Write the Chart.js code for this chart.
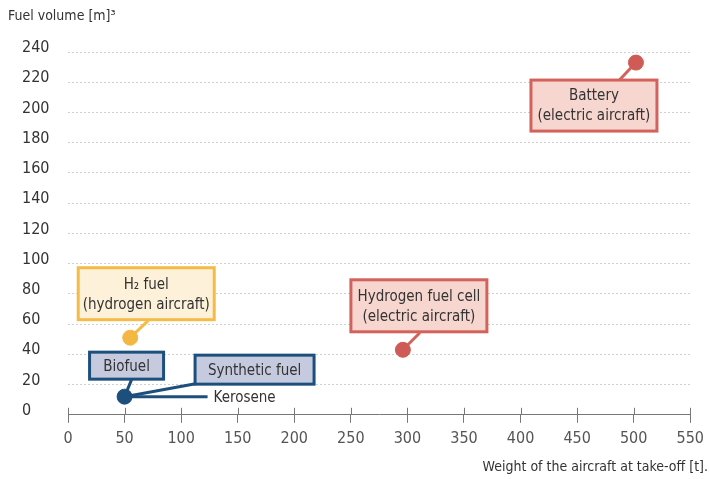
<!DOCTYPE html>
<html>
<head>
<meta charset="utf-8">
<script src="https://cdn.jsdelivr.net/npm/chart.js@4"></script>
<style>
  html,body{margin:0;padding:0;background:#fff;}
  #wrap{width:710px;height:479px;}
</style>
</head>
<body>
<div id="wrap"><canvas id="chart"></canvas></div>
<script>
// fuel types: take-off weight [t] vs fuel volume [m3]
const categories=["Kerosene","H2 fuel","Hydrogen fuel cell","Battery"]
const weights=[50,55,296,502]
const volumes=[12,51,43,233]
const pointColors=["#1d4f7c","#f2b843","#cf5b57","#cf5b57"]
const xTicks=[0,50,100,150,200,250,300,350,400,450,500,550]
const yTicks=[0,20,40,60,80,100,120,140,160,180,200,220,240]

const FONT='"Liberation Sans Narrow","Arial Narrow","DejaVu Sans Condensed",sans-serif'
const TEXT="#333"

// callout boxes, placed relative to their point (pixels)
const callouts=[
  {point:0,lines:["Biofuel"],dx:2,dy:-31,w:74,h:27,fill:"#c6cadf",stroke:"#1d4f7c",lx:7,ly:-17},
  {point:0,lines:["Synthetic fuel"],dx:130,dy:-27,w:119,h:29,fill:"#c6cadf",stroke:"#1d4f7c",lx:71,ly:-13},
  {point:1,lines:["H\u2082 fuel","(hydrogen aircraft)"],dx:16,dy:-44,w:136,h:52,fill:"#fdf1d9",stroke:"#f4bc47",lx:18,ly:-17},
  {point:2,lines:["Hydrogen fuel cell","(electric aircraft)"],dx:16,dy:-44,w:136,h:52,fill:"#f6d6ce",stroke:"#d4625c",lx:17,ly:-17},
  {point:3,lines:["Battery","(electric aircraft)"],dx:-42,dy:43,w:126,h:51,fill:"#f6d6ce",stroke:"#d4625c",lx:-17,ly:18}
]

const calloutPlugin={
  id:"callouts",
  beforeDatasetsDraw(chart){
    const ctx=chart.ctx
    const meta=chart.getDatasetMeta(0)
    const x=chart.scales.x
    ctx.save()
    // tick marks crossing the x axis
    ctx.strokeStyle="#777"
    ctx.lineWidth=1
    xTicks.forEach(v=>{
      const px=Math.round(x.getPixelForValue(v))+0.5
      ctx.beginPath()
      ctx.moveTo(px,chart.chartArea.bottom-7)
      ctx.lineTo(px,chart.chartArea.bottom)
      ctx.stroke()
    })
    // leader lines
    ctx.lineWidth=3
    callouts.forEach(c=>{
      const p=meta.data[c.point]
      ctx.strokeStyle=c.stroke
      ctx.beginPath()
      ctx.moveTo(p.x,p.y)
      ctx.lineTo(p.x+c.lx,p.y+c.ly)
      ctx.stroke()
    })
    // kerosene line + label
    const k=meta.data[0]
    ctx.strokeStyle="#1d4f7c"
    ctx.beginPath()
    ctx.moveTo(k.x,k.y)
    ctx.lineTo(k.x+83,k.y)
    ctx.stroke()
    ctx.restore()
  },
  afterDatasetsDraw(chart){
    const ctx=chart.ctx
    const meta=chart.getDatasetMeta(0)
    ctx.save()
    ctx.font="15px "+FONT
    ctx.textAlign="center"
    ctx.textBaseline="middle"
    callouts.forEach(c=>{
      const p=meta.data[c.point]
      const cx=p.x+c.dx, cy=p.y+c.dy
      ctx.fillStyle=c.fill
      ctx.strokeStyle=c.stroke
      ctx.lineWidth=3
      ctx.fillRect(cx-c.w/2,cy-c.h/2,c.w,c.h)
      ctx.strokeRect(cx-c.w/2,cy-c.h/2,c.w,c.h)
      ctx.fillStyle=TEXT
      const lh=20
      c.lines.forEach((t,i)=>{
        ctx.fillText(t,cx,cy+(i-(c.lines.length-1)/2)*lh+1)
      })
    })
    const k=meta.data[0]
    ctx.textAlign="left"
    ctx.fillText(categories[0],k.x+89,k.y+1)
    // axis titles
    ctx.font="14px "+FONT
    ctx.fillText("Fuel volume [m]\u00b3",8,16)
    ctx.textAlign="right"
    ctx.fillText("Weight of the aircraft at take-off [t].",708,467)
    ctx.restore()
  }
}

new Chart(document.getElementById("chart"),{
  type:"scatter",
  data:{
    labels:categories,
    datasets:[{
      data:weights.map((w,i)=>({x:w,y:volumes[i]})),
      backgroundColor:pointColors,
      borderColor:pointColors,
      pointRadius:7.5,
      pointHoverRadius:7.5,
      clip:false
    }]
  },
  options:{
    responsive:true,
    maintainAspectRatio:false,
    animation:false,
    layout:{padding:{top:52,right:7,bottom:25,left:22}},
    plugins:{legend:{display:false},tooltip:{enabled:false}},
    scales:{
      x:{
        type:"linear",
        min:0,max:550,
        afterBuildTicks:s=>{s.ticks=xTicks.map(v=>({value:v}))},
        grid:{drawOnChartArea:false,tickLength:8,color:"#777"},
        border:{color:"#777",width:1},
        ticks:{color:"#555",padding:6,font:{family:FONT,size:16}}
      },
      y:{
        min:0,max:240,
        afterBuildTicks:s=>{s.ticks=yTicks.map(v=>({value:v}))},
        afterFit:s=>{s.width=46},
        grid:{drawTicks:false,color:c=>c.tick.value===0?"rgba(0,0,0,0)":"#cfcfcf"},
        border:{display:false,dash:[2,2]},
        ticks:{color:TEXT,crossAlign:"far",padding:0,labelOffset:-4,font:{family:FONT,size:16}}
      }
    }
  },
  plugins:[calloutPlugin]
})
</script>
</body>
</html>
